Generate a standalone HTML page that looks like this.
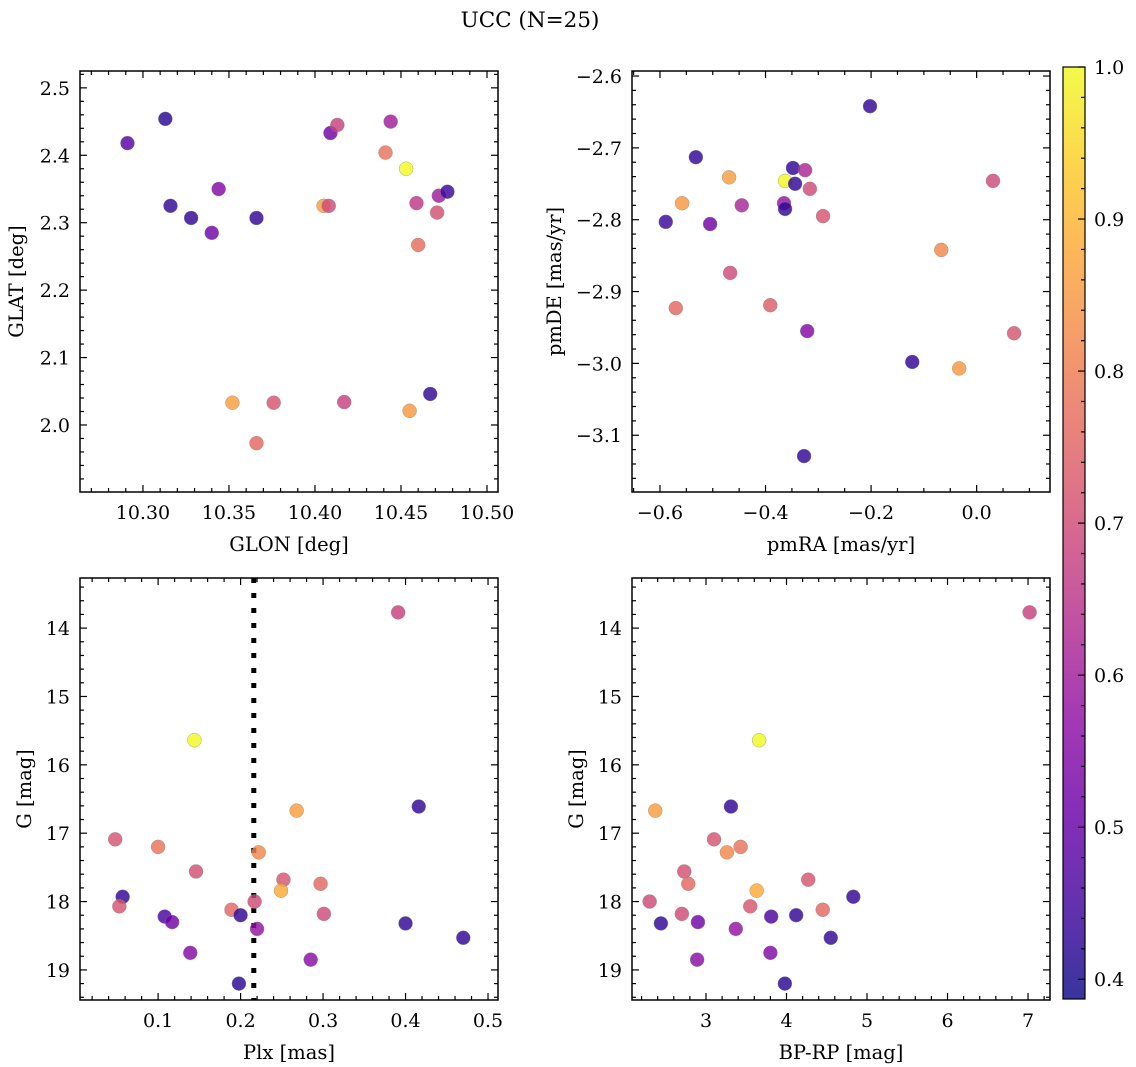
<!DOCTYPE html>
<html><head><meta charset="utf-8">
<style>
html,body{margin:0;padding:0;background:#fff;}
svg{display:block;font-family:"DejaVu Serif","Liberation Serif",serif;}
</style></head>
<body>
<svg id="fig" width="1136" height="1067" viewBox="0 0 1136 1067" xmlns="http://www.w3.org/2000/svg">
<text x="530" y="27" text-anchor="middle" font-size="21.5">UCC (N=25)</text>
</svg>
<script>
// Panel 1: GLON / GLAT
const glon = [10.291,10.313,10.316,10.328,10.340,10.344,10.366,10.352,10.366,10.376,10.405,10.408,10.409,10.413,10.417,10.441,10.444,10.453,10.459,10.460,10.455,10.467,10.471,10.472,10.477];
const glat = [2.418,2.454,2.325,2.307,2.285,2.350,2.307,2.033,1.973,2.033,2.325,2.325,2.433,2.445,2.034,2.404,2.450,2.380,2.329,2.267,2.021,2.046,2.315,2.340,2.346];
const prob1 = [0.48,0.42,0.43,0.43,0.52,0.55,0.43,0.86,0.76,0.72,0.86,0.70,0.52,0.68,0.68,0.78,0.60,1.00,0.66,0.77,0.85,0.43,0.71,0.60,0.44];
// Panel 2: pmRA / pmDE
const pmra = [-0.202,-0.532,-0.469,-0.363,-0.344,-0.348,-0.325,-0.558,-0.445,-0.365,-0.363,-0.316,-0.291,-0.589,-0.505,0.031,-0.467,-0.067,-0.570,-0.391,-0.321,-0.122,-0.033,0.071,-0.327];
const pmde = [-2.642,-2.713,-2.741,-2.746,-2.750,-2.728,-2.731,-2.777,-2.780,-2.777,-2.785,-2.757,-2.795,-2.803,-2.806,-2.746,-2.874,-2.842,-2.923,-2.919,-2.955,-2.998,-3.007,-2.958,-3.129];
const prob2 = [0.43,0.43,0.86,1.00,0.43,0.43,0.62,0.85,0.62,0.58,0.43,0.70,0.72,0.44,0.52,0.70,0.70,0.82,0.76,0.74,0.55,0.43,0.85,0.72,0.43];
// Panels 3 & 4: Plx, G, BP-RP
const plx = [0.391,0.144,0.416,0.268,0.048,0.100,0.222,0.146,0.252,0.297,0.249,0.057,0.217,0.053,0.189,0.301,0.200,0.108,0.117,0.400,0.220,0.470,0.139,0.285,0.198];
const gmag = [13.77,15.64,16.61,16.67,17.09,17.20,17.28,17.56,17.68,17.74,17.84,17.93,18.00,18.07,18.12,18.18,18.20,18.22,18.30,18.32,18.40,18.53,18.75,18.85,19.20];
const bprp = [7.02,3.66,3.31,2.37,3.10,3.43,3.26,2.73,4.27,2.78,3.63,4.83,2.30,3.55,4.45,2.70,4.12,3.81,2.90,2.44,3.37,4.55,3.80,2.89,3.98];
const prob3 = [0.68,1.00,0.43,0.86,0.72,0.78,0.82,0.71,0.72,0.76,0.88,0.43,0.70,0.72,0.76,0.70,0.43,0.46,0.52,0.43,0.58,0.43,0.55,0.56,0.42];
const plxRef = 0.216;

const NS = "http://www.w3.org/2000/svg";
const svg = document.getElementById('fig');
function mk(tag, attrs, parent){ const e=document.createElementNS(NS,tag); for(const k in attrs) e.setAttribute(k,attrs[k]); (parent||svg).appendChild(e); return e; }

const stops=["#0d0887","#41049d","#6a00a8","#8f0da4","#b12a90","#cc4778","#e16462","#f2844b","#fca636","#fcce25","#f0f921"];
function hex(h){return [parseInt(h.slice(1,3),16),parseInt(h.slice(3,5),16),parseInt(h.slice(5,7),16)];}
function plasma(t){ t=Math.max(0,Math.min(1,t)); const f=t*10; const i=Math.min(9,Math.floor(f)); const u=f-i; const a=hex(stops[i]),b=hex(stops[i+1]); return `rgb(${a.map((v,k)=>Math.round(v+(b[k]-v)*u)).join(',')})`; }
const vmin=0.387, vmax=1.0;
const cnorm = v => (v-vmin)/(vmax-vmin);
const FS=19, LFS=19.5;

function fmt(v,d){ const s=Math.abs(v).toFixed(d); return (v<-1e-9?'\u2212':'')+s; }

function panel(o){
  const g = mk('g',{});
  
  
  const sx = v => o.x0 + (v-o.xmin)/(o.xmax-o.xmin)*(o.x1-o.x0);
  const sy = v => o.yinv ? o.y0 + (v-o.ymin)/(o.ymax-o.ymin)*(o.y1-o.y0) : o.y1 - (v-o.ymin)/(o.ymax-o.ymin)*(o.y1-o.y0);
  const tg = mk('g',{stroke:'#000','stroke-width':1.2},g);
  const eps=1e-9;
  for(let v=Math.ceil(o.xmin/o.xminor-eps)*o.xminor; v<=o.xmax+eps; v+=o.xminor){
    const major = Math.abs(v/o.xmajor - Math.round(v/o.xmajor))<1e-6;
    const L = major?7:4, x=sx(v);
    mk('line',{x1:x,x2:x,y1:o.y1,y2:o.y1-L},tg); mk('line',{x1:x,x2:x,y1:o.y0,y2:o.y0+L},tg);
    if(major){ const t=mk('text',{x:x,y:o.y1+27,'text-anchor':'middle','font-size':FS,stroke:'none'},g); t.textContent=fmt(v,o.xd);
        }
  }
  for(let v=Math.ceil(o.ymin/o.yminor-eps)*o.yminor; v<=o.ymax+eps; v+=o.yminor){
    const major = Math.abs(v/o.ymajor - Math.round(v/o.ymajor))<1e-6;
    const L = major?7:4, y=sy(v);
    mk('line',{x1:o.x0,x2:o.x0+L,y1:y,y2:y},tg); mk('line',{x1:o.x1,x2:o.x1-L,y1:y,y2:y},tg);
    if(major){ const t=mk('text',{x:o.x0-10,y:y+7,'text-anchor':'end','font-size':FS},g); t.textContent=fmt(v,o.yd);
        }
  }
  if(o.extra) o.extra(g,sx,sy);
  const pts = mk('g',{},g);
  
  
  for(let i=0;i<o.xs.length;i++){
    const c=mk('circle',{cx:sx(o.xs[i]),cy:sy(o.ys[i]),r:7,fill:plasma(cnorm(o.cs[i])),'fill-opacity':0.82,stroke:'#888','stroke-width':0.5,'stroke-opacity':0.7},pts);
    
    
  }
  mk('rect',{x:o.x0,y:o.y0,width:o.x1-o.x0,height:o.y1-o.y0,fill:'none',stroke:'#000','stroke-width':1.5},g);
  const xl=mk('text',{x:(o.x0+o.x1)/2,y:o.y1+59,'text-anchor':'middle','font-size':LFS},g); xl.textContent=o.xlabel;
   
  const yx=o.x0-o.yoff, yy=(o.y0+o.y1)/2;
  const yl=mk('text',{x:yx,y:yy+6,'text-anchor':'middle','font-size':LFS,transform:`rotate(-90 ${yx} ${yy})`},g); yl.textContent=o.ylabel;
   
}

panel({name:'glon-glat-panel',x0:80,x1:498,y0:71,y1:492,xmin:10.2634,xmax:10.5064,ymin:1.9006,ymax:2.525,yoff:63,
  xmajor:0.05,xminor:0.01,ymajor:0.1,yminor:0.02,xd:2,yd:1,xs:glon,ys:glat,cs:prob1,xlabel:'GLON [deg]',ylabel:'GLAT [deg]'});
panel({name:'pm-panel',x0:632,x1:1050,y0:71,y1:492,xmin:-0.653,xmax:0.139,ymin:-3.179,ymax:-2.593,yoff:77,
  xmajor:0.2,xminor:0.05,ymajor:0.1,yminor:0.02,xd:1,yd:1,xs:pmra,ys:pmde,cs:prob2,xlabel:'pmRA [mas/yr]',ylabel:'pmDE [mas/yr]'});
panel({name:'plx-g-panel',x0:80,x1:498,y0:578,y1:1000,xmin:0.0053,xmax:0.5121,ymin:13.267,ymax:19.44,yinv:true,yoff:55,
  xmajor:0.1,xminor:0.02,ymajor:1,yminor:0.2,xd:1,yd:0,xs:plx,ys:gmag,cs:prob3,xlabel:'Plx [mas]',ylabel:'G [mag]',
  extra:(g,sx,sy)=>{ const l=mk('line',{x1:sx(plxRef),x2:sx(plxRef),y1:578,y2:1000,stroke:'#000','stroke-width':5,'stroke-dasharray':'5 10'},g);
      }});
panel({name:'cmd-panel',x0:632,x1:1050,y0:578,y1:1000,xmin:2.081,xmax:7.273,ymin:13.267,ymax:19.44,yinv:true,yoff:55,
  xmajor:1,xminor:0.2,ymajor:1,yminor:0.2,xd:0,yd:0,xs:bprp,ys:gmag,cs:prob3,xlabel:'BP-RP [mag]',ylabel:'G [mag]'});

// colorbar
const cb = mk('g',{});


const defs=mk('defs',{},cb);
const lg=mk('linearGradient',{id:'cbg',x1:0,y1:1,x2:0,y2:0},defs);
for(let i=0;i<=20;i++){ const t=i/20; mk('stop',{offset:t,'stop-color':plasma(t),'stop-opacity':0.82},lg); }
const cbTop=67, cbBot=999, cbX=1063, cbW=22;
mk('rect',{x:cbX,y:cbTop,width:cbW,height:cbBot-cbTop,fill:'url(#cbg)'},cb);
const cy = v => cbBot - (v-vmin)/(vmax-vmin)*(cbBot-cbTop);
for(let v=0.40; v<=1.0001; v+=0.02){
  const major=Math.abs(v*10-Math.round(v*10))<1e-6; const y=cy(v);
  mk('line',{x1:cbX+cbW,x2:cbX+cbW-(major?7:4),y1:y,y2:y,stroke:'#000','stroke-width':1.2},cb);
  if(major){ const t=mk('text',{x:cbX+cbW+9,y:y+7,'font-size':FS},cb); t.textContent=v.toFixed(1);
      }
}
mk('rect',{x:cbX,y:cbTop,width:cbW,height:cbBot-cbTop,fill:'none',stroke:'#000','stroke-width':1.2},cb);
</script>
</body></html>
